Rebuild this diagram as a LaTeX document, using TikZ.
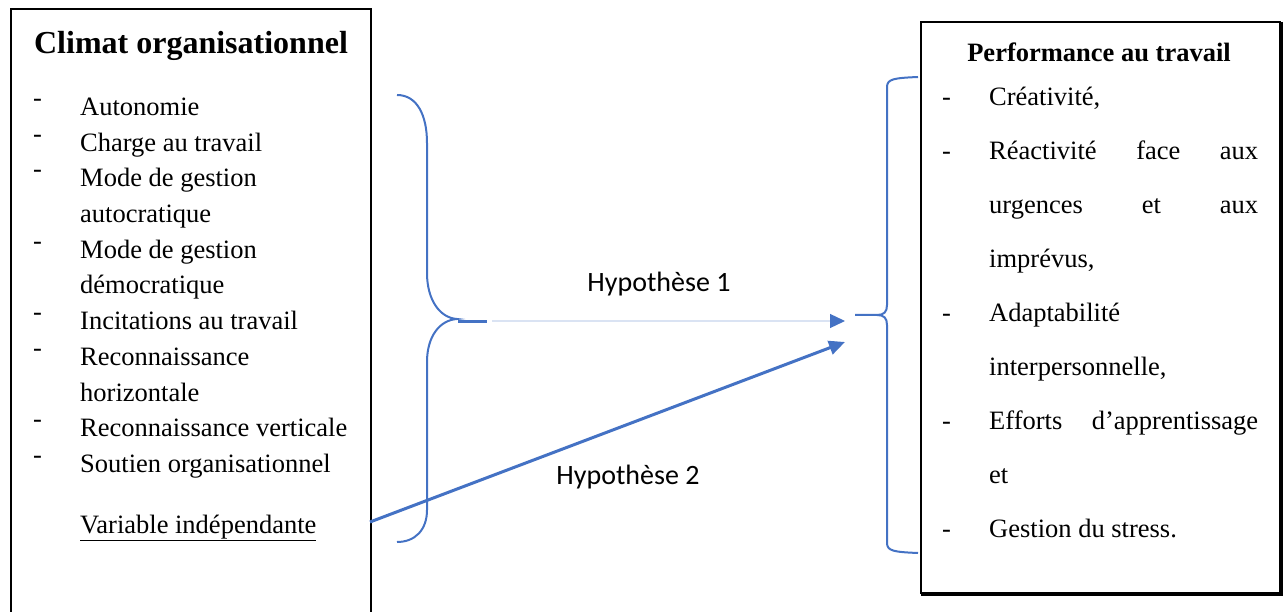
\documentclass[tikz,border=0pt]{standalone}
\usepackage{fontspec}
\setmainfont{Liberation Serif}
\newfontfamily\calibrifont{Carlito}
\usetikzlibrary{arrows.meta}
\definecolor{officeblue}{RGB}{68,114,196}
\definecolor{paleblue}{RGB}{218,227,243}

\begin{document}
\begin{tikzpicture}[x=1pt,y=-1pt,
  item/.style={anchor=base west,inner sep=0pt,font=\fontsize{26.5}{30}\selectfont},
  title/.style={anchor=base,inner sep=0pt,font=\bfseries\fontsize{#1}{#1}\selectfont},
  hyp/.style={anchor=base,inner sep=0pt,font=\calibrifont\fontsize{28}{32}\selectfont},
  brace/.style={draw=officeblue,line width=2pt},
  frame/.style={draw=black,line width=2pt,inner sep=0pt,anchor=north west}]
\useasboundingbox (0,0) rectangle (1285,612);
\clip (0,0) rectangle (1285,612);

% frames of the two variables
\node[frame,minimum width=360pt,minimum height=640pt] (climat) at (10,8) {};
\node[frame,minimum width=359pt,minimum height=571pt] (perf) at (920,21) {};
\draw[line width=1.2pt] (perf.north east) ++(1,1) -- ([shift={(1,1)}]perf.south east) -- ([shift={(1,1)}]perf.south west);

% independent variable
\node[title=32] (tclimat) at (191,54) {Climat organisationnel};
\foreach \t [count=\i from 0] in {Autonomie,Charge au travail,Mode de gestion,autocratique,Mode de gestion,démocratique,Incitations au travail,Reconnaissance,horizontale,Reconnaissance verticale,Soutien organisationnel}
  \node[item] (l\i) at (80,115.5+35.7*\i) {\t};
\foreach \i in {0,1,2,4,6,7,9,10}
  \node[item] (d\i) at (33,115.5+35.7*\i-9) {-};
\node[item] (varind) at (80,533) {\underline{Variable indépendante}};

% dependent variable
\node[title=26.5] (tperf) at (1099,62) {Performance au travail};
\node[item] (r0) at (989,106) {Créativité,};
\node[item] (r1) at (989,159.9) {\makebox[269pt][s]{Réactivité\hfill face\hfill aux}};
\node[item] (r2) at (989,213.8) {\makebox[269pt][s]{urgences\hfill et\hfill aux}};
\node[item] (r3) at (989,267.7) {imprévus,};
\node[item] (r4) at (989,321.6) {Adaptabilité};
\node[item] (r5) at (989,375.5) {interpersonnelle,};
\node[item] (r6) at (989,429.4) {\makebox[269pt][s]{Efforts\hfill d’apprentissage}};
\node[item] (r7) at (989,483.3) {et};
\node[item] (r8) at (989,537.2) {Gestion du stress.};
\foreach \i in {0,1,4,6,8}
  \node[item] (rd\i) at (942,106+53.9*\i) {-};

% braces
\coordinate (lbtip) at (457,319);
\draw[brace] (397,95) .. controls (417,95) and (427,115) .. (427,143) -- (427,273)
  .. controls (427,300) and (440,318) .. (lbtip)
  .. controls (440,320) and (427,336) .. (427,362) -- (427,510)
  .. controls (427,530) and (415,542) .. (397,542);
\coordinate (rbtip) at (855,315);
\coordinate (rbjoin) at (877,315);
\draw[brace] (918,77) .. controls (894,78) and (887,79) .. (887,87) -- (887,305)
  .. controls (887,312) and (884,315) .. (rbjoin) -- (rbtip);
\draw[brace] (rbjoin) .. controls (884,315) and (887,318) .. (887,325) -- (887,543)
  .. controls (887,551) and (894,552) .. (918,553);

% hypotheses
\coordinate (h1a) at (458,322);
\coordinate (h1b) at (487,322);
\coordinate (h1c) at (492,321);
\coordinate (h1end) at (845,321);
\draw[officeblue,line width=3pt] (h1a) -- (h1b);
\draw[paleblue,line width=1.2pt,-{Triangle[length=15pt,width=14pt,color=officeblue,fill=officeblue]}] (h1c) -- (h1end);
\coordinate (h2start) at (370,522);
\coordinate (h2end) at (845,342);
\draw[officeblue,line width=3pt,-{Triangle[length=16pt,width=14pt]}] (h2start) -- (h2end);
\node[hyp] (hyp1) at (659,292) {Hypothèse 1};
\node[hyp] (hyp2) at (628,484) {Hypothèse 2};
\end{tikzpicture}
\end{document}
